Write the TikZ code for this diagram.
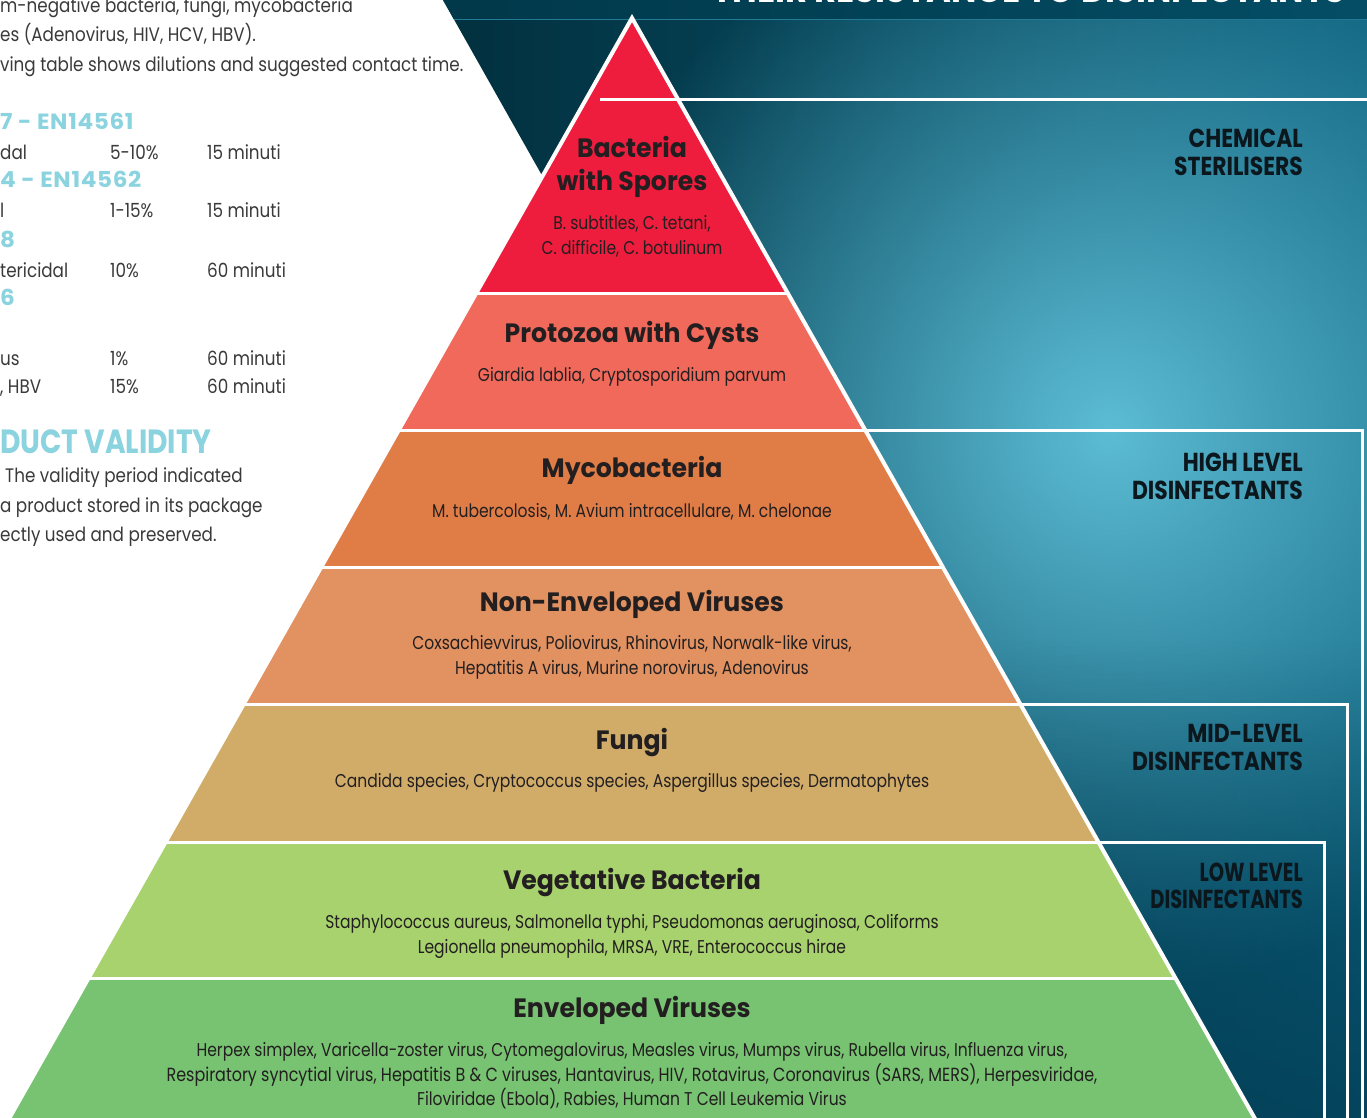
\documentclass[tikz,border=0pt]{standalone}
\usepackage{fontspec}
\setmainfont{Poppins}[FakeStretch=0.84]
\newfontfamily\widefont{Poppins}[FakeStretch=0.95]
\newfontfamily\notefont{Poppins}[FakeStretch=0.86]
\newfontfamily\stdfont{Poppins}[FakeStretch=1.05,LetterSpace=3]
\newfontfamily\narrowfont{Poppins}[FakeStretch=0.75]
\usetikzlibrary{fadings}

\definecolor{deep}{HTML}{02303E}
\definecolor{sea}{HTML}{0A5E7A}
\definecolor{glow}{HTML}{5CBDD5}
\definecolor{abyss}{HTML}{023A50}
\definecolor{bandtop}{HTML}{01465C}
\definecolor{ink}{HTML}{231F20}
\definecolor{labelink}{HTML}{0B171C}
\definecolor{graytext}{HTML}{3A3A3A}
\definecolor{aqua}{HTML}{8AD3DF}
\definecolor{spores}{HTML}{EE1C3D}
\definecolor{cysts}{HTML}{F0695A}
\definecolor{myco}{HTML}{E07D47}
\definecolor{nonenv}{HTML}{E29160}
\definecolor{fungi}{HTML}{D1AC69}
\definecolor{veget}{HTML}{A7D26D}
\definecolor{envel}{HTML}{77C371}

\tikzfading[name=glowfade, inner color=transparent!0, outer color=transparent!100]
\tikzfading[name=sinkfade, top color=transparent!100, bottom color=transparent!30]

\begin{document}
\begin{tikzpicture}[x=1pt,y=-1pt]
                \tikzset{every node/.style={inner sep=0pt}}
                \tikzstyle{note}=[anchor=base west,text=graytext,font=\notefont\fontsize{19.5}{25}\selectfont]
                \tikzstyle{std}=[anchor=base west,text=aqua,font=\stdfont\fontsize{22}{25}\selectfont\bfseries]
                \tikzstyle{head}=[anchor=base,text=ink,font=\widefont\fontsize{26.5}{30}\selectfont\bfseries]
                \tikzstyle{kind}=[anchor=base,text=ink,font=\fontsize{18.5}{25}\selectfont]
                \tikzstyle{level}=[anchor=base east,text=labelink,font=\fontsize{26}{28}\selectfont\bfseries]
                \tikzstyle{sep}=[draw=white,line width=4pt]
                \tikzstyle{rim}=[draw=white,line width=3pt]
                \newcommand\band[3]{\fill[#3] ({632-0.566*(#1-18)},#1) -- ({632+0.566*(#1-18)},#1)
                    -- ({632+0.566*(#2-18)},#2) -- ({632-0.566*(#2-18)},#2) -- cycle;}
                \newcommand\row[5]{\node[note] (#1a) at (0,#2) {#3};%
                \node[note] (#1b) at (110,#2) {#4};%
                \node[note] (#1c) at (207,#2) {#5};}
                \useasboundingbox (0,0) rectangle (1367,1118);
                \clip (0,0) rectangle (1367,1118);
                \fill[white] (0,0) rectangle (1367,1118);
                \begin{scope}
                    \clip (443,0) -- (1367,0) -- (1367,1118) -- (1074,1118) -- cycle;
                    \shade[left color=deep,right color=sea] (443,0) rectangle (1367,1118);
                    \fill[glow,path fading=glowfade] (1110,430) circle (560pt);
                    \fill[abyss,path fading=sinkfade] (443,640) rectangle (1367,1118);
                    \shade[left color=bandtop!80!black,right color=bandtop!70!sea] (443,0) rectangle (1367,19);
                    \draw[sea!70!glow,line width=0.8pt] (443,19.5) -- (1367,19.5);
                \end{scope}
                \node[anchor=base east,text=white,font=\widefont\fontsize{35.5}{36}\selectfont\bfseries] (title) at (1345,3) {THEIR RESISTANCE TO DISINFECTANTS};
                \node[note] (n1) at (0,13) {m-negative bacteria, fungi, mycobacteria};
                \node[note] (n2) at (0,42) {es (Adenovirus, HIV, HCV, HBV).};
                \node[note] (n3) at (0,72) {ving table shows dilutions and suggested contact time.};
                \node[std] (en1) at (0,130) {7 - EN14561};
                \row{r1}{160}{dal}{5-10\%}{15 minuti}
                \node[std] (en2) at (0,188) {4 - EN14562};
                \row{r2}{218}{l}{1-15\%}{15 minuti}
                \node[std] (en3) at (0,247) {8};
                \row{r3}{277}{tericidal}{10\%}{60 minuti}
                \node[std] (en4) at (0,305) {6};
                \row{r4}{365}{us}{1\%}{60 minuti}
                \row{r5}{393}{, HBV}{15\%}{60 minuti}
                \node[std,font=\fontsize{33.5}{34}\selectfont\bfseries] (valid) at (0,453) {DUCT VALIDITY};
                \node[note] (v1) at (5,482) {The validity period indicated};
                \node[note] (v2) at (0,512) {a product stored in its package};
                \node[note] (v3) at (0,541) {ectly used and preserved.};
                \band{18}{293}{spores}
                \band{293}{430}{cysts}
                \band{430}{567}{myco}
                \band{567}{704}{nonenv}
                \band{704}{842}{fungi}
                \band{842}{978}{veget}
                \band{978}{1130}{envel}
                \foreach \y in {293,430,567,704,842,978}
                    \draw[sep,line width=3pt] ({632-0.566*(\y-18)},\y) -- ({632+0.566*(\y-18)},\y);
                \draw[sep,line join=miter] ({632-0.566*(1140-18)},1140) -- (632,18) -- ({632+0.566*(1140-18)},1140);
                \draw[rim] (600,100) -- (1370,100);
                \draw[rim] (866,430) -- (1362,430) -- (1362,1125);
                \draw[rim] (1021,704) -- (1347,704) -- (1347,1125);
                \draw[rim] (1099,842) -- (1324,842) -- (1324,1125);
                \node[head] (spa) at (632,158) {Bacteria};
                \node[head] (spb) at (632,191) {with Spores};
                \node[kind] (spc) at (632,229) {B. subtitles, C. tetani,};
                \node[kind] (spd) at (632,254) {C. difficile, C. botulinum};
                \node[head] (cya) at (632,342) {Protozoa with Cysts};
                \node[kind] (cyb) at (632,381) {Giardia lablia, Cryptosporidium parvum};
                \node[head] (mya) at (632,477) {Mycobacteria};
                \node[kind] (myb) at (632,517) {M. tubercolosis, M. Avium intracellulare, M. chelonae};
                \node[head] (nea) at (632,611) {Non-Enveloped Viruses};
                \node[kind] (neb) at (632,649) {Coxsachievvirus, Poliovirus, Rhinovirus, Norwalk-like virus,};
                \node[kind] (nec) at (632,674) {Hepatitis A virus, Murine norovirus, Adenovirus};
                \node[head] (fua) at (632,749) {Fungi};
                \node[kind] (fub) at (632,787) {Candida species, Cryptococcus species, Aspergillus species, Dermatophytes};
                \node[head] (vea) at (632,889) {Vegetative Bacteria};
                \node[kind] (veb) at (632,928) {Staphylococcus aureus, Salmonella typhi, Pseudomonas aeruginosa, Coliforms};
                \node[kind] (vec) at (632,953) {Legionella pneumophila, MRSA, VRE, Enterococcus hirae};
                \node[head] (ena) at (632,1017) {Enveloped Viruses};
                \node[kind] (enb) at (632,1056) {Herpex simplex, Varicella-zoster virus, Cytomegalovirus, Measles virus, Mumps virus, Rubella virus, Influenza virus,};
                \node[kind,font=\fontsize{19}{25}\selectfont] (enc) at (632,1081) {Respiratory syncytial virus, Hepatitis B \& C viruses, Hantavirus, HIV, Rotavirus, Coronavirus (SARS, MERS), Herpesviridae,};
                \node[kind] (end) at (632,1105) {Filoviridae (Ebola), Rabies, Human T Cell Leukemia Virus};
                \node[level] (chem) at (1303,148) {CHEMICAL};
                \node[level] (ster) at (1303,176) {STERILISERS};
                \node[level] (higha) at (1303,471) {HIGH LEVEL};
                \node[level] (highb) at (1303,499) {DISINFECTANTS};
                \node[level] (mida) at (1303,742) {MID-LEVEL};
                \node[level] (midb) at (1303,770) {DISINFECTANTS};
                \node[level,font=\narrowfont\fontsize{26}{28}\selectfont\bfseries] (lowa) at (1303,881) {LOW LEVEL};
                \node[level,font=\narrowfont\fontsize{26}{28}\selectfont\bfseries] (lowb) at (1303,908) {DISINFECTANTS};
            \end{tikzpicture}
\end{document}
